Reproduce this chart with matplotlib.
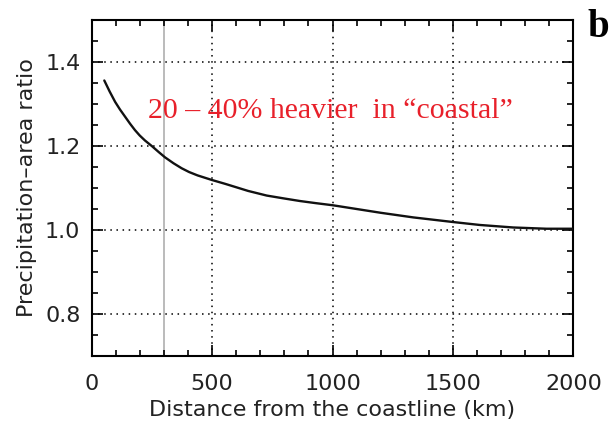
import matplotlib
matplotlib.use("Agg")
import matplotlib.pyplot as plt
from matplotlib.ticker import MultipleLocator

distance_km = [53, 75, 98, 118, 139, 160, 180, 200, 222, 252, 280, 305, 340, 374, 405, 440,
               500, 554, 588, 650, 727, 800, 865, 930, 1000, 1100, 1200, 1335, 1500, 1611,
               1750, 1888, 2000]
ratio = [1.356, 1.330, 1.305, 1.287, 1.270, 1.253, 1.238, 1.225, 1.213, 1.199, 1.185, 1.173,
         1.159, 1.147, 1.138, 1.130, 1.119, 1.110, 1.104, 1.093, 1.082, 1.075, 1.069, 1.064,
         1.059, 1.050, 1.041, 1.030, 1.019, 1.012, 1.006, 1.003, 1.003]
x_ticks = [0, 500, 1000, 1500, 2000]
y_ticks = [0.8, 1.0, 1.2, 1.4]
y_tick_labels = ['0.8', '1.0', '1.2', '1.4']
ref_line_x = 300

fig = plt.figure(figsize=(6.11, 4.24), dpi=100)
ax = fig.add_axes([0.1498, 0.1604, 0.9386 - 0.1498, 0.9528 - 0.1604])

ax.set_xlim(0, 2000)
ax.set_ylim(0.7, 1.5)

for xv in x_ticks[1:-1]:
    ax.axvline(xv, color='black', linestyle=(0, (1, 3)), linewidth=1.1, zorder=1)
for yv in y_ticks:
    ax.axhline(yv, color='black', linestyle=(0, (1, 3)), linewidth=1.1, zorder=1)

ax.axvline(ref_line_x, color='#b5b5b5', linewidth=1.3, zorder=1)
ax.plot(distance_km, ratio, color='#111111', linewidth=1.7, zorder=3,
        solid_joinstyle='round', solid_capstyle='round')

ax.set_xticks(x_ticks)
ax.set_yticks(y_ticks)
ax.set_yticklabels(y_tick_labels)
ax.xaxis.set_minor_locator(MultipleLocator(100))
ax.yaxis.set_minor_locator(MultipleLocator(0.05))
ax.tick_params(which='both', direction='in', top=True, right=True, width=1.2, labelsize=16, colors='black')
ax.tick_params(which='major', length=8)
ax.tick_params(axis='x', which='major', pad=13)
ax.tick_params(axis='y', which='major', pad=8)
ax.tick_params(which='minor', length=4)
for s in ax.spines.values():
    s.set_linewidth(1.5)

for lab in ax.get_xticklabels() + ax.get_yticklabels():
    lab.set_color('#222222')

ax.set_xlabel('Distance from the coastline (km)', fontsize=16, color='#222222', labelpad=4)
ax.set_ylabel('Precipitation\u2013area ratio', fontsize=16, color='#222222', labelpad=6)

ax.text(0.495, 0.73, '20 \u2013 40% heavier  in \u201ccoastal\u201d', transform=ax.transAxes,
        ha='center', va='center', color='#e8202a', fontsize=21.5, family='Liberation Serif')

fig.text(0.979, 1 - 37 / 424, 'b', ha='center', va='baseline', fontsize=28, fontweight='bold',
         family='Liberation Serif')

fig.savefig('out.png', dpi=100)
